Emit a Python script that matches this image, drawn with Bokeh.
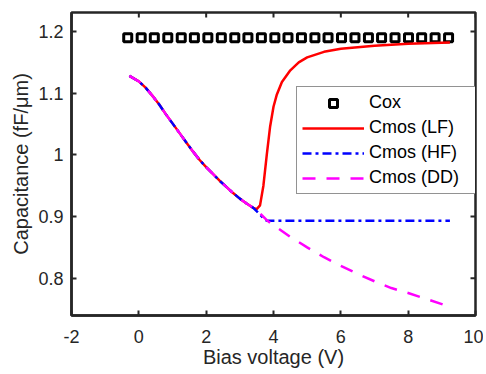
import math
from bokeh.plotting import figure
from bokeh.models import FixedTicker, CustomJSTickFormatter, Range1d, Legend, LegendItem
from bokeh.embed import file_html
from bokeh.resources import INLINE

# ---- data ----
cox_v = [-0.33, 0.07, 0.46, 0.86, 1.26, 1.65, 2.05, 2.45, 2.85, 3.24, 3.64, 4.04, 4.43,
         4.83, 5.23, 5.62, 6.02, 6.42, 6.82, 7.21, 7.61, 8.01, 8.40, 8.80, 9.20]
cox_c = [1.19, 1.19, 1.19, 1.19, 1.19, 1.19, 1.19, 1.19, 1.19, 1.19, 1.19, 1.19, 1.19,
         1.19, 1.19, 1.19, 1.19, 1.19, 1.19, 1.19, 1.19, 1.19, 1.19, 1.19, 1.19]

base_v = [-0.28, 0.0, 0.2, 0.4, 0.6, 0.8, 1.0, 1.2, 1.4, 1.6, 1.8, 2.0, 2.2, 2.4, 2.6, 2.8, 3.0, 3.2, 3.4]
base_c = [1.128, 1.119, 1.109, 1.096, 1.082, 1.066, 1.051, 1.036, 1.021, 1.006, 0.992, 0.980,
          0.969, 0.958, 0.948, 0.938, 0.929, 0.921, 0.914]

lf_v = base_v + [3.5, 3.6, 3.7, 3.8, 3.9, 4.0, 4.1, 4.25, 4.5, 4.75, 5.0, 5.5, 6.0, 7.0, 8.0, 9.24]
lf_c = base_c + [0.912, 0.918, 0.950, 1.000, 1.046, 1.078, 1.098, 1.118, 1.137, 1.150, 1.158,
                 1.167, 1.172, 1.177, 1.180, 1.182]

hf_v = base_v + [3.55, 3.7, 3.8, 5.0, 7.0, 9.24]
hf_c = base_c + [0.906, 0.897, 0.893, 0.893, 0.893, 0.893]

dd_v = base_v + [3.6, 3.8, 4.0, 4.5, 5.0, 5.5, 6.0, 6.5, 7.0, 7.5, 8.0, 8.5, 9.0, 9.24]
dd_c = base_c + [0.905, 0.894, 0.886, 0.867, 0.850, 0.834, 0.820, 0.807, 0.795, 0.784,
                 0.776, 0.767, 0.758, 0.753]

x_ticks = [-2, 0, 2, 4, 6, 8, 10]
y_ticks = [0.8, 0.9, 1.0, 1.1, 1.2]
x_lim = (-2, 10)
y_lim = (0.7395, 1.2308)

FONT = "Liberation Sans"
AX = "#262626"

p = figure(frame_width=404, frame_height=303, output_backend="svg", toolbar_location=None,
           x_range=Range1d(*x_lim), y_range=Range1d(*y_lim),
           min_border_left=71, min_border_right=8, min_border_top=12, min_border_bottom=56,
           x_axis_label="Bias voltage (V)", y_axis_label="Capacitance (fF/\u03bcm)")
p.grid.visible = False
p.outline_line_color = AX
p.outline_line_width = 2.5
p.background_fill_color = "white"
p.border_fill_color = "white"

fmt = CustomJSTickFormatter(code="return tick.toString();")

for ax, ticks in ((p.xaxis[0], x_ticks), (p.yaxis[0], y_ticks)):
    ax.ticker = FixedTicker(ticks=ticks)
    ax.formatter = fmt
    ax.axis_line_color = AX
    ax.axis_line_width = 2.5
    ax.major_tick_line_color = AX
    ax.major_tick_line_width = 2
    ax.major_tick_in = 5
    ax.major_tick_out = 0
    ax.minor_tick_line_color = None
    ax.major_label_text_font = FONT
    ax.major_label_text_color = AX
    ax.major_label_text_font_size = "18px"
    ax.major_label_standoff = 8
    ax.axis_label_text_font = FONT
    ax.axis_label_text_font_size = "20px"
    ax.axis_label_text_font_style = "normal"
    ax.axis_label_text_color = AX
p.xaxis[0].major_label_standoff = 14
p.xaxis[0].axis_label_standoff = 0
p.yaxis[0].axis_label_standoff = 3

# inward tick marks on the top and right edges of the box (clipped to the frame)
p.scatter(x_ticks, [y_lim[1]] * len(x_ticks), marker="dash", angle=math.pi / 2, size=10,
          line_color=AX, line_width=2)
p.scatter([x_lim[1]] * len(y_ticks), y_ticks, marker="dash", angle=0, size=10,
          line_color=AX, line_width=2)

r_cox = p.scatter(cox_v, cox_c, marker="square", size=8, line_width=3,
                  line_color="black", fill_color="white")
r_lf = p.line(lf_v, lf_c, line_color="#FF0000", line_width=2.5)
r_hf = p.line(hf_v, hf_c, line_color="#0000FF", line_width=2.5, line_dash="9 4 3 4")
r_dd = p.line(dd_v, dd_c, line_color="#FF00FF", line_width=2.5, line_dash="13 11")

legend = Legend(items=[LegendItem(label="Cox", renderers=[r_cox]),
                       LegendItem(label="Cmos (LF)", renderers=[r_lf]),
                       LegendItem(label="Cmos (HF)", renderers=[r_hf]),
                       LegendItem(label="Cmos (DD)", renderers=[r_dd])],
                location=(225, 121))
legend.label_text_font = FONT
legend.label_text_font_size = "18px"
legend.label_text_color = "black"
legend.border_line_color = AX
legend.border_line_width = 1.5
legend.background_fill_color = "white"
legend.background_fill_alpha = 1
legend.padding = 5
legend.spacing = 4
legend.margin = 0
legend.glyph_width = 62
legend.glyph_height = 20
legend.label_height = 20
legend.label_standoff = 5
legend.label_width = 101
p.add_layout(legend, "center")

open("out.html", "w").write(file_html(p, INLINE))
